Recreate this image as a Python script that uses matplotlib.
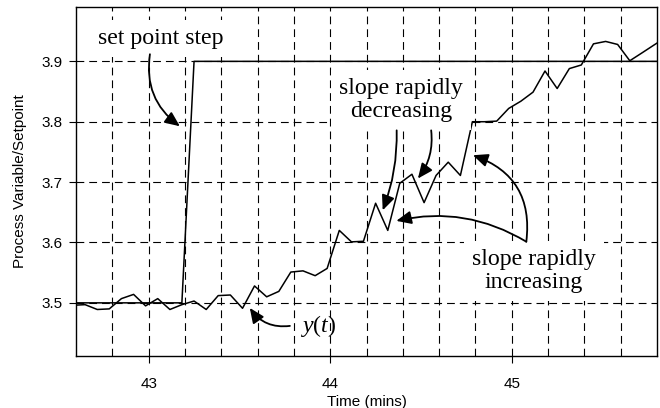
import matplotlib
matplotlib.use('Agg')
import matplotlib.pyplot as plt

plt.rcParams['font.family'] = 'Liberation Sans'
plt.rcParams['mathtext.fontset'] = 'custom'
plt.rcParams['mathtext.rm'] = 'Liberation Serif'
plt.rcParams['mathtext.it'] = 'Liberation Serif:italic'

# Process variable y(t), sampled every 4 s
time = [42.583, 42.650, 42.717, 42.783, 42.850, 42.917, 42.983, 43.050, 43.117,
        43.183, 43.250, 43.317, 43.383, 43.450, 43.517, 43.583, 43.650, 43.717,
        43.783, 43.850, 43.917, 43.983, 44.050, 44.117, 44.183, 44.250, 44.317,
        44.383, 44.450, 44.517, 44.583, 44.650, 44.717, 44.783, 44.850, 44.917,
        44.983, 45.050, 45.117, 45.183, 45.250, 45.317, 45.383, 45.450, 45.517,
        45.583, 45.650, 45.717, 45.783, 45.850]
pv = [3.496, 3.497, 3.489, 3.490, 3.507, 3.514, 3.495, 3.507, 3.489,
      3.497, 3.503, 3.489, 3.512, 3.513, 3.491, 3.528, 3.510, 3.519,
      3.551, 3.553, 3.545, 3.557, 3.620, 3.601, 3.602, 3.665, 3.620,
      3.698, 3.713, 3.666, 3.711, 3.733, 3.711, 3.800, 3.800, 3.801,
      3.822, 3.834, 3.849, 3.884, 3.855, 3.888, 3.894, 3.929, 3.933,
      3.928, 3.901, 3.914, 3.927, 3.940]

# Setpoint step
sp_time = [42.583, 43.183, 43.250, 45.850]
sp_value = [3.5, 3.5, 3.9, 3.9]

x_major = [43, 44, 45]
x_minor = [42.8, 43.2, 43.4, 43.6, 43.8, 44.2, 44.4, 44.6, 44.8, 45.2, 45.4, 45.6]
y_major = [3.5, 3.6, 3.7, 3.8, 3.9]

fig = plt.figure(figsize=(6.6, 4.08), dpi=100)
ax = fig.add_axes([0.1152, 0.1275, 0.8803, 0.8553])

ax.plot(sp_time, sp_value, color='black', lw=1.1, zorder=3)
ax.plot(time, pv, color='black', lw=1.1, zorder=3)

ax.set_xlim(42.6, 45.8)
ax.set_ylim(3.412, 3.99)
ax.set_xticks(x_major)
ax.set_xticks(x_minor, minor=True)
ax.set_yticks(y_major)
ax.tick_params(axis='both', which='major', direction='out', length=5, width=0.8,
               labelsize=11)
ax.tick_params(axis='x', which='major', pad=10)
ax.tick_params(axis='y', which='major', pad=5)
ax.tick_params(axis='x', which='minor', length=0)

grid_style = dict(color='black', lw=0.8, linestyle=(0, (7, 4.5)))
ax.grid(True, which='both', axis='x', **grid_style)
ax.grid(True, which='major', axis='y', **grid_style)
ax.set_axisbelow(True)
for s in ax.spines.values():
    s.set_linewidth(1.0)

ax.set_xlabel('Time (mins)', fontsize=11, labelpad=3)
ax.set_ylabel('Process Variable/Setpoint', fontsize=11, labelpad=10)

serif = dict(family='Liberation Serif', fontsize=17.2, ha='center', va='center',
             linespacing=1.1, zorder=4,
             bbox=dict(boxstyle='square,pad=0.35', fc='white', ec='none'))
ax.text(43.065, 3.938, 'set point step', **serif)
ax.text(44.389, 3.836, 'slope rapidly\ndecreasing', **serif)
ax.text(45.123, 3.5525, 'slope rapidly\nincreasing', **serif)
ax.text(43.934, 3.4614, '$y(t)$', fontsize=17.2, ha='center', va='center', zorder=4)

arrow = dict(arrowstyle='-|>,head_length=0.5,head_width=0.22', color='black',
             lw=1.3, mutation_scale=18, shrinkA=0, shrinkB=0)
# set point step
ax.annotate('', xy=(43.172, 3.7925), xytext=(43.007, 3.9118),
            arrowprops=dict(connectionstyle='arc3,rad=0.3', **arrow), zorder=5)
# slope rapidly decreasing
ax.annotate('', xy=(44.289, 3.6533), xytext=(44.366, 3.7857),
            arrowprops=dict(connectionstyle='arc3,rad=-0.1', **arrow), zorder=5)
ax.annotate('', xy=(44.483, 3.7059), xytext=(44.556, 3.7857),
            arrowprops=dict(connectionstyle='arc3,rad=-0.2', **arrow), zorder=5)
# slope rapidly increasing
ax.annotate('', xy=(44.786, 3.7445), xytext=(45.080, 3.6013),
            arrowprops=dict(connectionstyle='arc3,rad=0.4', **arrow), zorder=5)
ax.annotate('', xy=(44.364, 3.6358), xytext=(45.080, 3.6013),
            arrowprops=dict(connectionstyle='arc3,rad=0.2', **arrow), zorder=5)
# y(t)
ax.annotate('', xy=(43.557, 3.4916), xytext=(43.778, 3.4618),
            arrowprops=dict(connectionstyle='arc3,rad=-0.3', **arrow), zorder=5)

fig.savefig('out.png', dpi=100, facecolor='white')
